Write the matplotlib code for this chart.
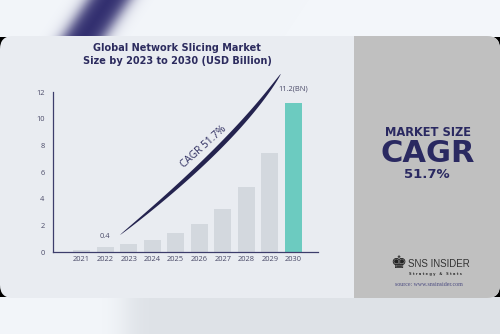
import numpy as np
import matplotlib
matplotlib.use("Agg")
import matplotlib.pyplot as plt
from matplotlib.patches import FancyBboxPatch, Rectangle, Polygon

# ---- data ----
years = ["2021", "2022", "2023", "2024", "2025", "2026", "2027", "2028", "2029", "2030"]
values = [0.2, 0.4, 0.62, 0.95, 1.45, 2.15, 3.25, 4.9, 7.45, 11.2]
yticks = [0, 2, 4, 6, 8, 10, 12]
label_2022 = "0.4"
label_2030 = "11.2(BN)"
title = "Global Network Slicing Market\nSize by 2023 to 2030 (USD Billion)"
cagr_text = "CAGR 51.7%"

NAVY = "#2c2b5e"
BAR = "#d3d8de"
TEAL = "#6ccbc0"

W, H = 500, 334
fig = plt.figure(figsize=(5, 3.34), dpi=100)

# ---- background axes in pixel coordinates ----
bg = fig.add_axes([0, 0, 1, 1])
bg.set_xlim(0, W)
bg.set_ylim(H, 0)
bg.axis("off")

yy, xx = np.mgrid[0:H, 0:W].astype(float)
base = np.array([0xf3, 0xf6, 0xfa]) / 255.0
img = np.ones((H, W, 3)) * base
# bottom gradient
grey = np.array([0xde, 0xe2, 0xe7]) / 255.0
t = 1 / (1 + np.exp(-(xx - 125) / 8.0))
bottom = (yy > 290)[..., None]
img = np.where(bottom, base * (1 - t[..., None]) + grey * t[..., None], img)
# blurred navy stroke at top-left
p0 = np.array([111.0, -5.0])
d = np.array([-22.0, 33.0]); d /= np.linalg.norm(d)
n = np.array([d[1], -d[0]])
dist = np.abs((xx - p0[0]) * n[0] + (yy - p0[1]) * n[1])
a = 1 / (1 + np.exp((dist - 17) / 4.0))
stroke = np.array([0x30, 0x2d, 0x6e]) / 255.0
img = img * (1 - a[..., None]) + stroke * a[..., None]
bg.imshow(img, extent=[0, W, H, 0], zorder=0, interpolation="bilinear")

# card with black corners
R = 13
for (cx, cy) in [(0, 36.6), (W - R, 36.6), (0, 298 - R - 0.6), (W - R, 298 - R - 0.6)]:
    bg.add_patch(Rectangle((cx, cy), R, R, color="black", zorder=1, lw=0))
bg.add_patch(FancyBboxPatch((0, 36), W, 262, boxstyle="round,pad=0,rounding_size=%d" % R,
                            fc="#e9ecf1", ec="none", zorder=2))
bg.add_patch(Rectangle((354, 36), 146 - R, 262, color="#c0c0c0", zorder=3, lw=0))
bg.add_patch(FancyBboxPatch((354, 36), 146, 262, boxstyle="round,pad=0,rounding_size=%d" % R,
                            fc="#c0c0c0", ec="none", zorder=3))

# title
bg.text(177, 54.5, title, ha="center", va="center", fontsize=7, fontweight="bold",
        color=NAVY, linespacing=1.35, zorder=5, family="DejaVu Sans")

# right panel
bg.text(428, 132, "MARKET SIZE", ha="center", va="center", fontsize=8.3, fontweight="bold",
        color="#2a2961", zorder=5)
bg.text(428, 153.5, "CAGR", ha="center", va="center", fontsize=22, fontweight="bold",
        color="#2a2961", zorder=5)
bg.text(427, 175, "51.7%", ha="center", va="center", fontsize=9.5, fontweight="bold",
        color="#2a2961", zorder=5)
bg.text(398, 263, "\u265a", ha="center", va="center", fontsize=13, color="#222222", zorder=5)
bg.text(408, 264, "SNS INSIDER", ha="left", va="center", fontsize=7, color="#333333",
        zorder=5, family="Liberation Sans")
bg.text(409, 273.5, "S t r a t e g y   &   S t a t s", ha="left", va="center", fontsize=2.6,
        fontweight="bold", color="#333333", zorder=5)
bg.text(429, 285, "source: www.snsinsider.com", ha="center", va="center", fontsize=4.2,
        color="#4a4a80", zorder=5, family="Liberation Serif")

# ---- chart axes ----
x0, x1 = 53.0, 317.7
ytop, ybot = 92.3, 252.3
ax = fig.add_axes([x0 / W, (H - ybot) / H, (x1 - x0) / W, (ybot - ytop) / H])
ax.set_zorder(4)
ax.patch.set_alpha(0)
idx = np.arange(len(years))
colors = [BAR] * (len(years) - 1) + [TEAL]
ax.bar(idx, values, width=0.72, color=colors, zorder=2)
ax.set_xlim(-1.22, 10.04)
ax.set_ylim(0, 12)
ax.set_xticks(idx)
ax.set_xticklabels(years)
ax.set_yticks(yticks)
for s in ["top", "right"]:
    ax.spines[s].set_visible(False)
for s in ["left", "bottom"]:
    ax.spines[s].set_color("#3d3d6b")
    ax.spines[s].set_linewidth(0.9)
ax.tick_params(length=0, labelsize=5.4, labelcolor="#4a4a68")
ax.tick_params(axis="y", pad=6)
ax.tick_params(axis="x", pad=3)
for lab in ax.get_xticklabels() + ax.get_yticklabels():
    lab.set_family("Open Sans")

ax.text(1, values[1] + 0.5, label_2022, ha="center", va="bottom", fontsize=5.4,
        color="#4a4a68", family="Open Sans")
ax.text(9, 12.0, label_2030, ha="center", va="bottom", fontsize=5.4,
        color="#4a4a68", family="Open Sans", clip_on=False)

# ---- CAGR swoosh (quadratic bezier, tapered) ----
P0 = np.array([1.63, 1.30])
P1 = np.array([6.48, 8.14])
P2 = np.array([8.47, 13.38])
tt = np.linspace(0, 1, 200)
pts = ((1 - tt)[:, None] ** 2) * P0 + (2 * (1 - tt) * tt)[:, None] * P1 + (tt ** 2)[:, None] * P2
disp = ax.transData.transform(pts)
tang = np.gradient(disp, axis=0)
tang /= np.linalg.norm(tang, axis=1)[:, None]
nrm = np.stack([-tang[:, 1], tang[:, 0]], axis=1)
half = 2.1 * np.sin(np.pi * tt) ** 0.6 * (1 + 0.2 * tt)
upper = disp + nrm * half[:, None]
lower = disp - nrm * half[:, None]
poly_disp = np.vstack([upper, lower[::-1]])
poly = ax.transData.inverted().transform(poly_disp)
ax.add_patch(Polygon(poly, closed=True, fc="#24234f", ec="none", zorder=3, clip_on=False))

ax.text(5.2, (ybot - 146.5) / 13.333, cagr_text, rotation=42, ha="center", va="center",
        fontsize=7.3, color="#2c2b5e", family="Open Sans", rotation_mode="anchor")

fig.savefig("out.png", dpi=100)
